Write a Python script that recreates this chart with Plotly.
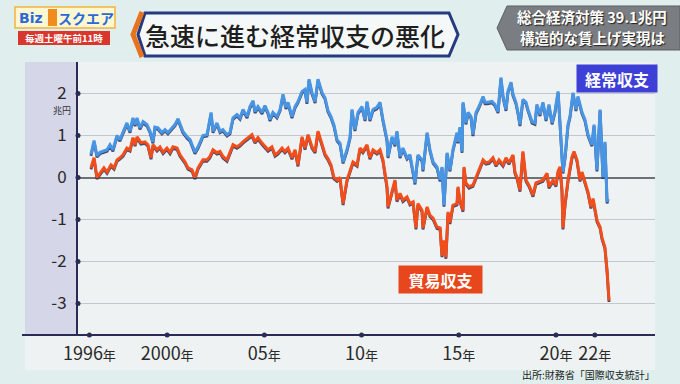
import plotly.graph_objects as go

# ---------------- data ----------------
ca_years = [1996.08, 1996.24, 1996.39, 1996.55, 1996.91, 1997.06, 1997.21, 1997.42, 1997.57, 1997.73,
            1997.93, 1998.09, 1998.24, 1998.35, 1998.45, 1998.60, 1998.76, 1998.96, 1999.12, 1999.27,
            1999.37, 1999.53, 1999.73, 1999.89, 2000.04, 2000.25, 2000.40, 2000.56, 2000.66, 2000.81,
            2001.02, 2001.18, 2001.43, 2001.59, 2001.84, 2002.05, 2002.26, 2002.36, 2002.56, 2002.72,
            2002.87, 2003.08, 2003.23, 2003.39, 2003.59, 2003.75, 2003.90, 2004.11, 2004.26, 2004.42,
            2004.52, 2004.67, 2004.88, 2005.03, 2005.19, 2005.29, 2005.44, 2005.65, 2005.81, 2005.96,
            2006.11, 2006.22, 2006.42, 2006.58, 2006.73, 2006.94, 2007.09, 2007.19, 2007.30, 2007.45,
            2007.61, 2007.76, 2007.97, 2008.12, 2008.27, 2008.43, 2008.58, 2008.74, 2008.89, 2009.05,
            2009.25, 2009.41, 2009.51, 2009.66, 2009.82, 2010.02, 2010.18, 2010.28, 2010.43, 2010.59,
            2010.79, 2010.95, 2011.10, 2011.31, 2011.36, 2011.57, 2011.72, 2011.82, 2011.98, 2012.13,
            2012.34, 2012.49, 2012.75, 2012.90, 2013.11, 2013.16, 2013.37, 2013.52, 2013.68, 2013.88,
            2014.04, 2014.14, 2014.24, 2014.40, 2014.55, 2014.70, 2014.91, 2014.96, 2015.06, 2015.17,
            2015.22, 2015.37, 2015.48, 2015.63, 2015.73, 2015.89, 2016.04, 2016.25, 2016.35, 2016.50,
            2016.71, 2016.86, 2017.02, 2017.17, 2017.28, 2017.43, 2017.53, 2017.69, 2017.79, 2017.94,
            2018.05, 2018.15, 2018.30, 2018.46, 2018.56, 2018.77, 2018.92, 2019.02, 2019.18, 2019.33,
            2019.49, 2019.64, 2019.80, 2019.95, 2020.11, 2020.26, 2020.36, 2020.47, 2020.62, 2020.72,
            2020.88, 2021.03, 2021.13, 2021.34, 2021.49, 2021.65, 2021.85, 2021.96, 2022.11, 2022.27,
            2022.42, 2022.52, 2022.63, 2022.68]
ca_values = [0.55, 0.88, 0.52, 0.60, 0.66, 0.78, 0.66, 1.00, 0.90, 1.10,
             1.30, 1.10, 1.42, 1.26, 1.42, 1.18, 1.33, 1.26, 1.10, 0.85,
             1.20, 1.18, 1.07, 1.14, 1.07, 1.18, 1.26, 1.40, 1.26, 1.10,
             0.97, 0.90, 0.60, 0.73, 1.00, 1.02, 1.55, 1.10, 1.30, 1.10,
             1.14, 1.02, 1.07, 1.42, 1.50, 1.42, 1.62, 1.45, 1.69, 1.83,
             1.57, 1.69, 1.55, 1.71, 1.55, 1.38, 1.55, 1.45, 1.62, 1.98,
             1.67, 1.79, 1.45, 1.69, 1.81, 2.05, 2.10, 1.79, 2.34, 2.02,
             1.81, 2.34, 2.02, 1.90, 1.60, 1.45, 1.25, 0.90, 0.82, 0.37,
             0.66, 0.97, 1.62, 1.14, 1.55, 1.69, 1.38, 1.81, 1.38, 1.62,
             1.67, 1.79, 1.38, 0.90, 0.50, 0.97, 0.78, 1.10, 0.50, 0.70,
             0.47, 0.54, -0.13, 0.54, 0.42, 0.18, 1.07, 0.66, 0.37, 0.25,
             -0.06, 0.25, -0.66, 0.59, 0.18, 0.66, 1.07, 0.85, 1.20, 0.62,
             1.79, 1.30, 1.55, 1.45, 1.02, 1.55, 1.69, 1.93, 1.79, 1.79,
             1.81, 1.74, 1.57, 2.38, 1.93, 1.62, 2.05, 2.27, 1.98, 1.79,
             1.55, 1.26, 1.86, 1.79, 1.62, 1.33, 1.30, 1.74, 1.50, 1.79,
             1.38, 1.74, 1.30, 1.57, 2.05, 0.97, 0.13, 0.50, 1.26, 1.45,
             2.02, 1.62, 1.93, 1.55, 1.38, 1.02, 0.78, 1.26, 0.18, 1.62,
             0.00, 0.85, -0.58, -0.50]

tb_years = [1996.08, 1996.24, 1996.39, 1996.60, 1996.75, 1996.91, 1997.11, 1997.27, 1997.42, 1997.57,
            1997.73, 1997.93, 1998.09, 1998.24, 1998.35, 1998.45, 1998.65, 1998.86, 1999.01, 1999.17,
            1999.27, 1999.48, 1999.63, 1999.79, 1999.99, 2000.15, 2000.30, 2000.51, 2000.66, 2000.92,
            2001.07, 2001.28, 2001.43, 2001.59, 2001.84, 2002.05, 2002.20, 2002.36, 2002.56, 2002.72,
            2002.87, 2003.08, 2003.23, 2003.39, 2003.59, 2003.75, 2003.90, 2004.16, 2004.36, 2004.52,
            2004.67, 2004.88, 2005.03, 2005.19, 2005.39, 2005.55, 2005.70, 2005.91, 2006.06, 2006.22,
            2006.42, 2006.58, 2006.73, 2006.94, 2007.09, 2007.25, 2007.45, 2007.61, 2007.76, 2007.97,
            2008.12, 2008.27, 2008.43, 2008.58, 2008.74, 2008.89, 2009.05, 2009.25, 2009.41, 2009.56,
            2009.77, 2009.92, 2010.07, 2010.28, 2010.43, 2010.59, 2010.79, 2010.95, 2011.10, 2011.31,
            2011.36, 2011.57, 2011.72, 2011.82, 2011.98, 2012.13, 2012.34, 2012.49, 2012.65, 2012.80,
            2012.90, 2013.11, 2013.16, 2013.37, 2013.52, 2013.68, 2013.88, 2014.04, 2014.14, 2014.24,
            2014.34, 2014.45, 2014.55, 2014.70, 2014.91, 2014.96, 2015.06, 2015.22, 2015.27, 2015.37,
            2015.53, 2015.73, 2015.89, 2016.04, 2016.25, 2016.40, 2016.56, 2016.76, 2016.92, 2017.07,
            2017.28, 2017.43, 2017.58, 2017.79, 2017.89, 2018.00, 2018.15, 2018.30, 2018.46, 2018.61,
            2018.82, 2018.97, 2019.13, 2019.33, 2019.54, 2019.64, 2019.85, 2020.00, 2020.11, 2020.21,
            2020.31, 2020.36, 2020.47, 2020.62, 2020.83, 2020.93, 2021.08, 2021.24, 2021.34, 2021.49,
            2021.65, 2021.80, 2021.91, 2022.11, 2022.27, 2022.37, 2022.52, 2022.63, 2022.73]
tb_values = [0.23, 0.47, 0.00, 0.13, 0.23, 0.13, 0.30, 0.23, 0.42, 0.47,
             0.54, 0.70, 0.66, 0.95, 0.78, 0.97, 0.83, 0.85, 0.78, 0.47,
             0.78, 0.66, 0.73, 0.60, 0.70, 0.60, 0.73, 0.70, 0.54, 0.37,
             0.23, 0.18, 0.00, 0.23, 0.42, 0.42, 0.50, 0.66, 0.59, 0.62,
             0.50, 0.42, 0.59, 0.78, 0.73, 0.78, 0.85, 0.95, 1.02, 0.85,
             0.95, 0.82, 0.73, 0.66, 0.73, 0.54, 0.59, 0.70, 0.62, 0.70,
             0.47, 0.66, 0.30, 0.97, 0.70, 1.02, 0.73, 0.62, 1.10, 0.80,
             0.56, 0.45, 0.30, 0.00, -0.06, 0.00, -0.62, -0.06, 0.18, 0.37,
             0.30, 0.70, 0.62, 0.78, 0.47, 0.66, 0.59, 0.66, 0.42, -0.22,
             -0.70, -0.30, -0.06, -0.54, -0.38, -0.54, -0.46, -0.62, -0.58, -1.20,
             -0.62, -0.78, -1.20, -0.70, -0.90, -0.97, -1.18, -1.20, -1.86, -1.50,
             -1.90, -0.82, -1.07, -0.66, -0.62, -0.22, -0.54, -0.78, 0.25, -0.13,
             -0.22, -0.18, 0.00, 0.18, 0.42, 0.35, 0.37, 0.47, 0.30, 0.42,
             0.30, 0.47, 0.35, 0.54, 0.13, 0.00, -0.30, 0.62, -0.06, -0.18,
             -0.42, -0.13, -0.10, -0.06, 0.10, -0.22, -0.06, -0.18, 0.15, 0.25,
             -0.30, -1.20, -0.62, -0.06, 0.50, 0.62, 0.42, -0.06, 0.13, -0.13,
             -0.35, -0.70, -0.50, -1.02, -1.18, -1.44, -1.66, -2.22, -2.93]

tick_years = [1996, 2000, 2005, 2010, 2015, 2020, 2022]
tick_labels = ["1996", "2000", "05", "10", "15", "20", "22"]
y_ticks = [2, 1, 0, -1, -2, -3]
y_tick_labels = ["2", "1", "0", "-1", "-2", "-3"]

series_ca = "経常収支"
series_tb = "貿易収支"
title_text = "急速に進む経常収支の悪化"
unit_text = "兆円"
source_text = "出所:財務省「国際収支統計」"
topic_line1 = "総合経済対策 39.1兆円"
topic_line2 = "構造的な賃上げ実現は"
program_time = "毎週土曜午前11時"

# ---------------- layout geometry ----------------
W, H = 680, 384
L, R, T, B = 78, 655, 62, 335
XR = [1995.414, 2025.095]
YR = [-3.75, 2.75]
SHY = 0.035  # shadow offset downward (axis units)

FONT = "Noto Sans CJK JP"
BLUE = "#4895e4"
RED = "#f24e1c"
NAVY = "#2a2c55"


def px(x):
    return (x - L) / (R - L)


def py(y):
    return (B - y) / (B - T)


fig = go.Figure()

# soft shadows under the lines (overlay axes 2, shifted down slightly)
for xs, ys in [(ca_years, ca_values), (tb_years, tb_values)]:
    fig.add_trace(go.Scatter(x=xs, y=ys, mode="lines", xaxis="x2", yaxis="y2",
                             line=dict(color="rgba(25,30,80,0.8)", width=2.8),
                             hoverinfo="skip", showlegend=False))
# main lines (overlay axes 3, exact range, drawn above the shadows)
fig.add_trace(go.Scatter(x=ca_years, y=ca_values, mode="lines", name=series_ca, xaxis="x3", yaxis="y3",
                         line=dict(color=BLUE, width=3), showlegend=False))
fig.add_trace(go.Scatter(x=tb_years, y=tb_values, mode="lines", name=series_tb, xaxis="x3", yaxis="y3",
                         line=dict(color=RED, width=3), showlegend=False))

shapes = []
# chart panel
shapes.append(dict(type="rect", xref="paper", yref="paper", x0=px(25), x1=px(655), y0=py(370), y1=py(62),
                   fillcolor="#eef2f2", line=dict(width=0), layer="below"))
shapes.append(dict(type="rect", xref="paper", yref="paper", x0=px(25), x1=px(78), y0=py(335), y1=py(62),
                   fillcolor="#d6d6e9", line=dict(width=0), layer="below"))
# bottom axis line
shapes.append(dict(type="line", xref="paper", yref="paper", x0=px(22), x1=px(655), y0=0, y1=0,
                   line=dict(color=NAVY, width=2), layer="above"))
# tick dots
for v in y_ticks:
    shapes.append(dict(type="circle", xref="paper", yref="y", xsizemode="pixel", ysizemode="pixel",
                       xanchor=0, yanchor=v, x0=-2.5, x1=2.5, y0=-2.5, y1=2.5,
                       fillcolor=NAVY, line=dict(width=0), layer="above"))
for t in tick_years:
    shapes.append(dict(type="circle", xref="x", yref="paper", xsizemode="pixel", ysizemode="pixel",
                       xanchor=t, yanchor=0, x0=-2.5, x1=2.5, y0=-2.5, y1=2.5,
                       fillcolor=NAVY, line=dict(width=0), layer="above"))


def path(points):
    return "M " + " L ".join(f"{px(a):.5f},{py(b):.5f}" for a, b in points) + " Z"


# title box
shapes.append(dict(type="path", xref="paper", yref="paper",
                   path=path([(145, 13), (449, 13), (458, 34.5), (449, 56), (145, 56), (138, 34.5)]),
                   fillcolor="#f5f8f8", line=dict(color="#253a80", width=3), layer="above"))
shapes.append(dict(type="path", xref="paper", yref="paper",
                   path="M " + f"{px(142):.5f},{py(12):.5f} L {px(133):.5f},{py(34.5):.5f} L {px(142):.5f},{py(57):.5f}",
                   line=dict(color="#e8731e", width=5), layer="above"))
# topic box top-right
shapes.append(dict(type="path", xref="paper", yref="paper",
                   path=path([(497, 28), (507, 6), (680, 6), (680, 50), (507, 50)]),
                   fillcolor="#7a7d81", line=dict(color="#5d6064", width=1), layer="above"))
# logo
shapes.append(dict(type="rect", xref="paper", yref="paper", x0=px(15), x1=px(115), y0=py(28), y1=py(7),
                   fillcolor="#fff6d2", line=dict(color="#f2b43c", width=1.5), layer="above"))
shapes.append(dict(type="rect", xref="paper", yref="paper", x0=px(48), x1=px(57), y0=py(26), y1=py(9),
                   fillcolor="#f08c1e", line=dict(width=0), layer="above"))
shapes.append(dict(type="rect", xref="paper", yref="paper", x0=px(18), x1=px(110), y0=py(45), y1=py(31),
                   fillcolor="#d9362c", line=dict(width=0), layer="above"))

annotations = [
    dict(x=px(295), y=py(35), text=title_text, showarrow=False, xref="paper", yref="paper",
         font=dict(family=FONT, size=25, color="#1e1e1e", weight=500), xanchor="center", yanchor="middle"),
    dict(x=px(592), y=py(17), text=topic_line1, showarrow=False, xref="paper", yref="paper",
         font=dict(family=FONT, size=14.5, color="white", weight=700, shadow="1px 1px 1px #222"),
         xanchor="center", yanchor="middle"),
    dict(x=px(592), y=py(37), text=topic_line2, showarrow=False, xref="paper", yref="paper",
         font=dict(family=FONT, size=14.5, color="white", weight=700, shadow="1px 1px 1px #222"),
         xanchor="center", yanchor="middle"),
    dict(x=px(31), y=py(18), text="Biz", showarrow=False, xref="paper", yref="paper",
         font=dict(family="DejaVu Sans", size=14, color="#2a6ad8", weight=700), xanchor="center", yanchor="middle"),
    dict(x=px(86), y=py(18), text="スクエア", showarrow=False, xref="paper", yref="paper",
         font=dict(family=FONT, size=14, color="#2a6ad8", weight=700), xanchor="center", yanchor="middle"),
    dict(x=px(64), y=py(38), text=program_time, showarrow=False, xref="paper", yref="paper",
         font=dict(family=FONT, size=9.5, color="white", weight=700), xanchor="center", yanchor="middle"),
    dict(x=px(617), y=py(78.5), text=series_ca, showarrow=False, xref="paper", yref="paper",
         width=80, height=27, bgcolor="#3d3fd6", borderpad=0,
         font=dict(family=FONT, size=16, color="white", weight=700), xanchor="center", yanchor="middle"),
    dict(x=px(440.5), y=py(279.5), text=series_tb, showarrow=False, xref="paper", yref="paper",
         width=83, height=27, bgcolor="#e8461c", borderpad=0,
         font=dict(family=FONT, size=16, color="white", weight=700), xanchor="center", yanchor="middle"),
    dict(x=px(62), y=py(110), text=unit_text, showarrow=False, xref="paper", yref="paper",
         font=dict(family=FONT, size=9, color="#333"), xanchor="center", yanchor="middle"),
    dict(x=px(657), y=py(374), text=source_text, showarrow=False, xref="paper", yref="paper",
         font=dict(family=FONT, size=10, color="#222"), xanchor="right", yanchor="middle"),
]

fig.update_layout(
    width=W, height=H, autosize=False,
    margin=dict(l=L, r=W - R, t=T, b=H - B, pad=0),
    paper_bgcolor="#e0efee", plot_bgcolor="#eef2f2",
    showlegend=False,
    shapes=shapes, annotations=annotations,
    xaxis=dict(range=XR, tickvals=tick_years,
               ticktext=[f"{t}<span style='font-size:13px'>年</span>" for t in tick_labels],
               showgrid=False, zeroline=False, showline=False, ticks="",
               tickfont=dict(family=FONT, size=18, color="#2a2a2a"), ticklabelstandoff=6,
               fixedrange=True),
    yaxis=dict(range=YR, tickvals=y_ticks, ticktext=y_tick_labels,
               showgrid=True, gridcolor="#c3c7c9", gridwidth=1,
               zeroline=True, zerolinecolor="#6e7275", zerolinewidth=2,
               showline=True, linecolor=NAVY, linewidth=2, ticks="",
               tickfont=dict(family=FONT, size=17, color="#2a2a2a"), ticklabelstandoff=6,
               fixedrange=True),
    xaxis2=dict(range=XR, overlaying="x", anchor="y2", visible=False, fixedrange=True),
    yaxis2=dict(range=[YR[0] + SHY, YR[1] + SHY], overlaying="y", anchor="x2", visible=False, fixedrange=True),
    xaxis3=dict(range=XR, overlaying="x", anchor="y3", visible=False, fixedrange=True),
    yaxis3=dict(range=YR, overlaying="y", anchor="x3", visible=False, fixedrange=True),
)

fig.write_html("out.html", config={"displayModeBar": False},
               post_script="document.body.style.margin='0';document.body.style.overflow='hidden';")
